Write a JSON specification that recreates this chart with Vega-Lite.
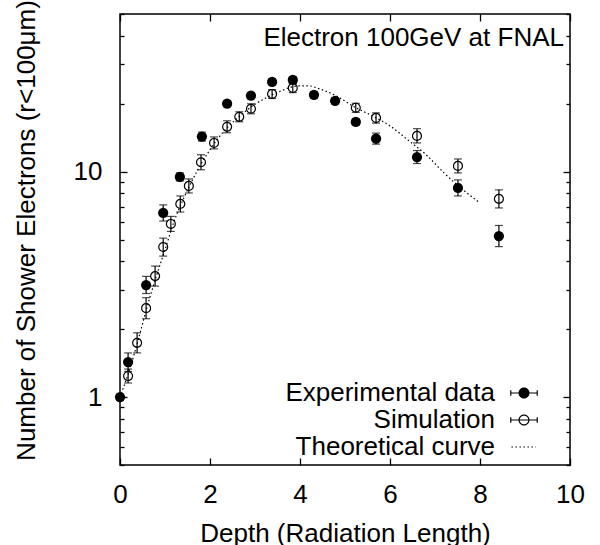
{
  "$schema": "https://vega.github.io/schema/vega-lite/v6.json",
  "width": 450,
  "height": 451,
  "autosize": "none",
  "padding": {"left": 120, "top": 14, "right": 30, "bottom": 80},
  "background": "white",
  "config": {
    "font": "Liberation Sans",
    "view": {"stroke": "black", "strokeWidth": 1.5},
    "axis": {"grid": false, "domain": false, "tickColor": "black", "tickWidth": 1.3, "labelColor": "black", "labelFont": "Liberation Sans", "labelFontSize": 26, "titleFont": "Liberation Sans", "titleFontSize": 26, "titleFontWeight": "normal", "titleColor": "black"}
  },
  "title": {"text": "Electron 100GeV at FNAL", "anchor": "end", "orient": "top", "frame": "group", "baseline": "alphabetic", "offset": 0, "dy": 72, "dx": -6, "font": "Liberation Sans", "fontSize": 26, "fontWeight": "normal", "color": "black"},
  "data": {"values": [
    {"s": "Experimental data", "d": 0.0, "n": 1.0, "lo": 0.97, "hi": 1.03},
    {"s": "Experimental data", "d": 0.18, "n": 1.43, "lo": 1.30, "hi": 1.57},
    {"s": "Experimental data", "d": 0.58, "n": 3.14, "lo": 2.88, "hi": 3.43},
    {"s": "Experimental data", "d": 0.96, "n": 6.56, "lo": 6.04, "hi": 7.12},
    {"s": "Experimental data", "d": 1.33, "n": 9.47, "lo": 9.09, "hi": 9.87},
    {"s": "Experimental data", "d": 1.82, "n": 14.3, "lo": 13.66, "hi": 14.97},
    {"s": "Experimental data", "d": 2.38, "n": 20.0, "lo": 19.4, "hi": 20.6},
    {"s": "Experimental data", "d": 2.91, "n": 21.7, "lo": 21.05, "hi": 22.37},
    {"s": "Experimental data", "d": 3.38, "n": 25.0, "lo": 24.25, "hi": 25.78},
    {"s": "Experimental data", "d": 3.84, "n": 25.5, "lo": 24.7, "hi": 26.3},
    {"s": "Experimental data", "d": 4.31, "n": 21.9, "lo": 21.2, "hi": 22.6},
    {"s": "Experimental data", "d": 4.78, "n": 20.6, "lo": 20.0, "hi": 21.2},
    {"s": "Experimental data", "d": 5.24, "n": 16.6, "lo": 16.1, "hi": 17.1},
    {"s": "Experimental data", "d": 5.69, "n": 14.0, "lo": 13.23, "hi": 14.81},
    {"s": "Experimental data", "d": 6.6, "n": 11.6, "lo": 10.86, "hi": 12.4},
    {"s": "Experimental data", "d": 7.51, "n": 8.47, "lo": 7.8, "hi": 9.19},
    {"s": "Experimental data", "d": 8.42, "n": 5.18, "lo": 4.65, "hi": 5.77},
    {"s": "Simulation", "d": 0.18, "n": 1.24, "lo": 1.155, "hi": 1.332},
    {"s": "Simulation", "d": 0.38, "n": 1.74, "lo": 1.571, "hi": 1.928},
    {"s": "Simulation", "d": 0.58, "n": 2.48, "lo": 2.227, "hi": 2.76},
    {"s": "Simulation", "d": 0.78, "n": 3.44, "lo": 3.106, "hi": 3.812},
    {"s": "Simulation", "d": 0.96, "n": 4.63, "lo": 4.22, "hi": 5.07},
    {"s": "Simulation", "d": 1.13, "n": 5.86, "lo": 5.43, "hi": 6.33},
    {"s": "Simulation", "d": 1.34, "n": 7.19, "lo": 6.62, "hi": 7.8},
    {"s": "Simulation", "d": 1.53, "n": 8.64, "lo": 8.04, "hi": 9.28},
    {"s": "Simulation", "d": 1.8, "n": 11.0, "lo": 10.19, "hi": 11.88},
    {"s": "Simulation", "d": 2.09, "n": 13.4, "lo": 12.61, "hi": 14.25},
    {"s": "Simulation", "d": 2.38, "n": 15.8, "lo": 14.87, "hi": 16.8},
    {"s": "Simulation", "d": 2.65, "n": 17.5, "lo": 16.63, "hi": 18.42},
    {"s": "Simulation", "d": 2.91, "n": 19.0, "lo": 18.05, "hi": 19.99},
    {"s": "Simulation", "d": 3.38, "n": 22.1, "lo": 21.1, "hi": 23.1},
    {"s": "Simulation", "d": 3.84, "n": 23.5, "lo": 22.4, "hi": 24.6},
    {"s": "Simulation", "d": 5.24, "n": 19.2, "lo": 18.3, "hi": 20.1},
    {"s": "Simulation", "d": 5.69, "n": 17.3, "lo": 16.4, "hi": 18.2},
    {"s": "Simulation", "d": 6.6, "n": 14.4, "lo": 13.4, "hi": 15.5},
    {"s": "Simulation", "d": 7.51, "n": 10.6, "lo": 9.87, "hi": 11.38},
    {"s": "Simulation", "d": 8.42, "n": 7.57, "lo": 6.9, "hi": 8.3},
    {"s": "Theoretical curve", "d": 0.0, "n": 1.0},
    {"s": "Theoretical curve", "d": 0.2, "n": 1.3},
    {"s": "Theoretical curve", "d": 0.4, "n": 1.78},
    {"s": "Theoretical curve", "d": 0.6, "n": 2.5},
    {"s": "Theoretical curve", "d": 0.8, "n": 3.4},
    {"s": "Theoretical curve", "d": 1.0, "n": 4.5},
    {"s": "Theoretical curve", "d": 1.2, "n": 6.0},
    {"s": "Theoretical curve", "d": 1.4, "n": 7.5},
    {"s": "Theoretical curve", "d": 1.6, "n": 9.1},
    {"s": "Theoretical curve", "d": 1.8, "n": 10.8},
    {"s": "Theoretical curve", "d": 2.0, "n": 12.5},
    {"s": "Theoretical curve", "d": 2.2, "n": 14.2},
    {"s": "Theoretical curve", "d": 2.4, "n": 15.8},
    {"s": "Theoretical curve", "d": 2.6, "n": 17.2},
    {"s": "Theoretical curve", "d": 2.8, "n": 18.6},
    {"s": "Theoretical curve", "d": 3.0, "n": 19.9},
    {"s": "Theoretical curve", "d": 3.2, "n": 21.0},
    {"s": "Theoretical curve", "d": 3.4, "n": 22.0},
    {"s": "Theoretical curve", "d": 3.6, "n": 22.9},
    {"s": "Theoretical curve", "d": 3.8, "n": 23.7},
    {"s": "Theoretical curve", "d": 4.0, "n": 24.0},
    {"s": "Theoretical curve", "d": 4.2, "n": 24.0},
    {"s": "Theoretical curve", "d": 4.4, "n": 23.4},
    {"s": "Theoretical curve", "d": 4.8, "n": 21.7},
    {"s": "Theoretical curve", "d": 5.2, "n": 19.4},
    {"s": "Theoretical curve", "d": 5.6, "n": 17.7},
    {"s": "Theoretical curve", "d": 6.0, "n": 15.95},
    {"s": "Theoretical curve", "d": 6.4, "n": 13.8},
    {"s": "Theoretical curve", "d": 6.8, "n": 11.9},
    {"s": "Theoretical curve", "d": 7.2, "n": 9.87},
    {"s": "Theoretical curve", "d": 7.6, "n": 8.38},
    {"s": "Theoretical curve", "d": 8.0, "n": 7.26}
  ]},
  "resolve": {"axis": {"x": "independent", "y": "independent"}},
  "layer": [
    {
      "transform": [{"filter": "datum.s === 'Theoretical curve'"}],
      "mark": {"type": "line", "interpolate": "monotone", "strokeDash": [1.5, 2.5], "strokeWidth": 1.2, "color": "black"},
      "encoding": {
        "x": {"field": "d", "type": "quantitative", "scale": {"domain": [0, 10], "nice": false, "zero": false},
              "axis": {"orient": "bottom", "values": [0, 2, 4, 6, 8, 10], "tickSize": -7, "labelPadding": 23, "labelFlush": false, "title": "Depth (Radiation Length)", "titleY": 76, "titleBaseline": "alphabetic"}},
        "y": {"field": "n", "type": "quantitative", "scale": {"type": "log", "domain": [0.5, 50], "nice": false},
              "axis": {"orient": "left", "values": [0.5, 0.6, 0.7, 0.8, 0.9, 1, 2, 3, 4, 5, 6, 7, 8, 9, 10, 20, 30, 40, 50],
                       "tickSize": {"condition": {"test": "datum.value === 1 || datum.value === 10", "value": -7}, "value": -4},
                       "labelExpr": "datum.value === 1 ? '1' : (datum.value === 10 ? '10' : '')",
                       "labelPadding": 25, "labelFlush": false, "labelOverlap": false,
                       "title": "Number of Shower Electrons (r<100μm)", "titleAngle": 270, "titleX": -86, "titleY": 216, "titleAlign": "center", "titleBaseline": "alphabetic"}}
      }
    },
    {
      "transform": [{"filter": "isValid(datum.lo)"}],
      "mark": {"type": "rule", "color": "black", "strokeWidth": 1.2},
      "encoding": {
        "x": {"field": "d", "type": "quantitative", "axis": null},
        "y": {"field": "lo", "type": "quantitative", "axis": null},
        "y2": {"field": "hi"}
      }
    },
    {
      "transform": [{"filter": "isValid(datum.lo)"}],
      "mark": {"type": "tick", "orient": "horizontal", "size": 8, "thickness": 1.2, "color": "black"},
      "encoding": {
        "x": {"field": "d", "type": "quantitative", "axis": null},
        "y": {"field": "lo", "type": "quantitative", "axis": null}
      }
    },
    {
      "transform": [{"filter": "isValid(datum.hi)"}],
      "mark": {"type": "tick", "orient": "horizontal", "size": 8, "thickness": 1.2, "color": "black"},
      "encoding": {
        "x": {"field": "d", "type": "quantitative", "axis": null},
        "y": {"field": "hi", "type": "quantitative", "axis": null}
      }
    },
    {
      "transform": [{"filter": "datum.s === 'Simulation'"}],
      "mark": {"type": "point", "shape": "circle", "filled": false, "size": 80, "strokeWidth": 1.2, "color": "black", "opacity": 1},
      "encoding": {
        "x": {"field": "d", "type": "quantitative", "axis": {"orient": "top", "values": [0, 2, 4, 6, 8, 10], "tickSize": -7, "labels": false, "title": null}},
        "y": {"field": "n", "type": "quantitative", "axis": {"orient": "right", "values": [0.5, 0.6, 0.7, 0.8, 0.9, 1, 2, 3, 4, 5, 6, 7, 8, 9, 10, 20, 30, 40, 50],
              "tickSize": {"condition": {"test": "datum.value === 1 || datum.value === 10", "value": -7}, "value": -4}, "labels": false, "title": null}}
      }
    },
    {
      "transform": [{"filter": "datum.s === 'Experimental data'"}],
      "mark": {"type": "point", "shape": "circle", "filled": true, "size": 105, "color": "black", "opacity": 1},
      "encoding": {
        "x": {"field": "d", "type": "quantitative", "axis": null},
        "y": {"field": "n", "type": "quantitative", "axis": null}
      }
    },
    {
      "mark": {"type": "point", "opacity": 0, "filled": true},
      "encoding": {
        "x": {"field": "d", "type": "quantitative", "axis": null},
        "y": {"field": "n", "type": "quantitative", "axis": null},
        "shape": {"field": "s", "type": "nominal",
          "scale": {"domain": ["Experimental data", "Simulation", "Theoretical curve"],
                    "range": ["M-1,0H1M-1,-0.2V0.2M1,-0.2V0.2M-0.37,0A0.37,0.37 0 1 1 0.37,0A0.37,0.37 0 1 1 -0.37,0", "M-1,0H1M-1,-0.2V0.2M1,-0.2V0.2M-0.37,0A0.37,0.37 0 1 1 0.37,0A0.37,0.37 0 1 1 -0.37,0", "M-0.95,0H0.9"]},
          "legend": {"title": null, "orient": "none", "legendX": 390, "legendY": 365, "padding": 0,
            "labelFont": "Liberation Sans", "labelFontSize": 26, "labelColor": "black", "labelAlign": "right", "labelOffset": -43, "labelLimit": 400,
            "symbolSize": 700, "symbolStrokeWidth": 1.2, "symbolOpacity": 1, "rowPadding": -1}},
        "fill": {"field": "s", "type": "nominal",
          "scale": {"domain": ["Experimental data", "Simulation", "Theoretical curve"], "range": ["black", "white", "white"]},
          "legend": {"title": null, "orient": "none", "legendX": 390, "legendY": 365, "padding": 0,
            "labelFont": "Liberation Sans", "labelFontSize": 26, "labelColor": "black", "labelAlign": "right", "labelOffset": -43, "labelLimit": 400,
            "symbolSize": 700, "symbolStrokeWidth": 1.2, "symbolOpacity": 1, "rowPadding": -1}},
        "stroke": {"field": "s", "type": "nominal",
          "scale": {"domain": ["Experimental data", "Simulation", "Theoretical curve"], "range": ["black", "black", "black"]},
          "legend": {"title": null, "orient": "none", "legendX": 390, "legendY": 365, "padding": 0,
            "labelFont": "Liberation Sans", "labelFontSize": 26, "labelColor": "black", "labelAlign": "right", "labelOffset": -43, "labelLimit": 400,
            "symbolSize": 700, "symbolStrokeWidth": 1.2, "symbolOpacity": 1, "rowPadding": -1}},
        "strokeDash": {"field": "s", "type": "nominal",
          "scale": {"domain": ["Experimental data", "Simulation", "Theoretical curve"], "range": [[1, 0], [1, 0], [1.5, 2.5]]},
          "legend": {"title": null, "orient": "none", "legendX": 390, "legendY": 365, "padding": 0,
            "labelFont": "Liberation Sans", "labelFontSize": 26, "labelColor": "black", "labelAlign": "right", "labelOffset": -43, "labelLimit": 400,
            "symbolSize": 700, "symbolStrokeWidth": 1.2, "symbolOpacity": 1, "rowPadding": -1}}
      }
    }
  ]
}
